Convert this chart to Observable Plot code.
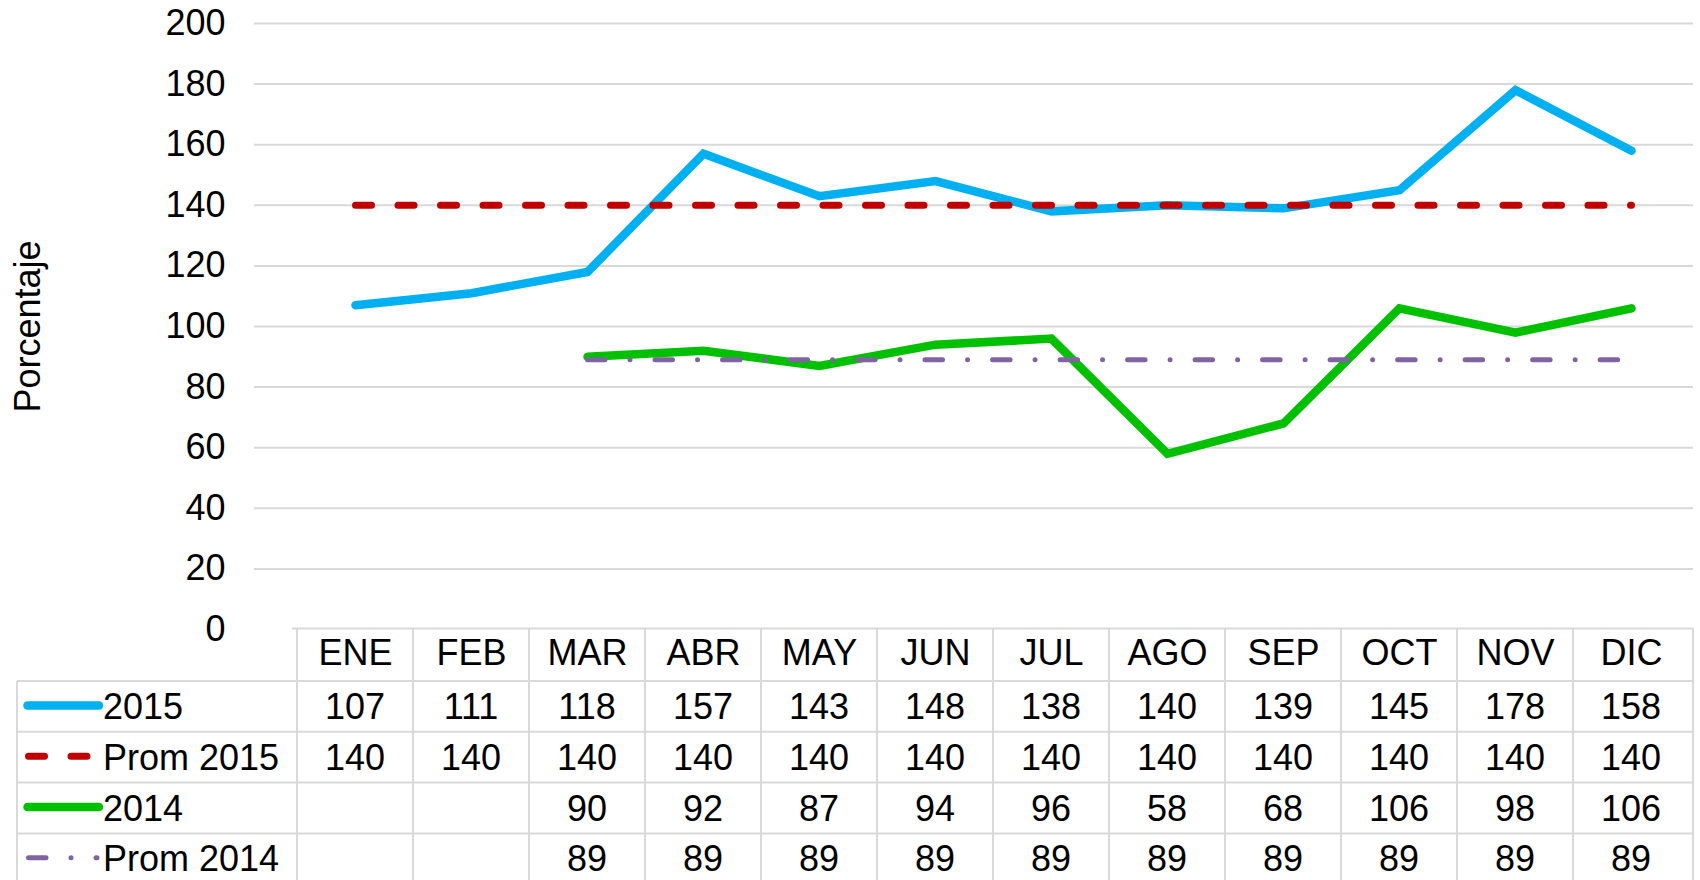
<!DOCTYPE html>
<html>
<head>
<meta charset="utf-8">
<script src="https://cdn.jsdelivr.net/npm/d3@7"></script>
<script src="https://cdn.jsdelivr.net/npm/@observablehq/plot@0.6"></script>
<style>
  html, body { margin: 0; padding: 0; background: #ffffff; }
  #chart svg { display: block; overflow: visible; }
</style>
</head>
<body>
<div id="chart"></div>
<script>
// ---- data ----
const months = ["ENE","FEB","MAR","ABR","MAY","JUN","JUL","AGO","SEP","OCT","NOV","DIC"];
const serie2015 = [107,111,118,157,143,148,138,140,139,145,178,158];
const prom2015  = [140,140,140,140,140,140,140,140,140,140,140,140];
const serie2014 = [null,null,90,92,87,94,96,58,68,106,98,106];
const prom2014  = [null,null,89,89,89,89,89,89,89,89,89,89];
const seriesNames = ["2015","Prom 2015","2014","Prom 2014"];
const yTicks = [0,20,40,60,80,100,120,140,160,180,200];
const yLabel = "Porcentaje";

// ---- styles ----
const FONT = "Arial, 'Liberation Sans', sans-serif";
const FS = 36;
const GRID = "#d9d9d9";
const styles = [
  {stroke: "#00B0F0", strokeWidth: 8.5, dash: null},
  {stroke: "#C00000", strokeWidth: 7, dash: "16,26.5"},
  {stroke: "#00C000", strokeWidth: 8.5, dash: null},
  {stroke: "#8064A2", strokeWidth: 5, dash: "17.5,25,0.01,25"}
];
const seriesValues = [serie2015, prom2015, serie2014, prom2014];

const W = 1700, H = 880;
const frameLeft = 254, colLeft = 292, colRight = 1693;
const frameTop = 23, frameBottom = 629;

const lineMarks = seriesValues.map((vals, k) =>
  Plot.line(vals.map((v, i) => ({month: months[i], value: v})), {
    x: "month", y: "value",
    stroke: styles[k].stroke, strokeWidth: styles[k].strokeWidth,
    strokeDasharray: styles[k].dash || undefined,
    strokeLinecap: "round", strokeLinejoin: "miter", strokeMiterlimit: 10
  })
);

const chart = Plot.plot({
  width: W, height: H,
  marginLeft: frameLeft, marginRight: W - colRight,
  marginTop: frameTop, marginBottom: H - frameBottom,
  style: {fontFamily: FONT, fontSize: FS + "px", background: "#ffffff", color: "#000000"},
  x: {type: "band", domain: months, range: [colLeft, colRight], padding: 0, label: null},
  y: {domain: [0, 200], label: null},
  marks: [
    Plot.ruleY(yTicks.filter(t => t > 0), {stroke: GRID, strokeWidth: 2}),
    Plot.axisY(yTicks, {tickSize: 0, tickPadding: 29, fontSize: FS, label: null, fill: "#000"}),
    Plot.axisX({tickSize: 0, tickPadding: 10, fontSize: FS, label: null, fill: "#000"}),
    Plot.text([yLabel], {frameAnchor: "left", dx: 27.5 - frameLeft, rotate: -90,
      textAnchor: "middle", lineAnchor: "middle", fontSize: FS, fill: "#000"}),
    ...lineMarks
  ]
});
document.getElementById("chart").appendChild(chart);

// ---- data table under the chart, positioned with Plot's x scale ----
const xs = chart.scale("x");
const bw = xs.bandwidth;
const starts = months.map(m => xs.apply(m));
const svg = d3.select(chart);
const g = svg.append("g").attr("class", "data-table");
const tableLeft = 17;
const headTop = 628.5, headBottom = 681, rowH = 50.8;
const rowTops = seriesValues.map((_, k) => headBottom + k * rowH);
const tableBottom = headBottom + seriesValues.length * rowH;

const line = (x1, y1, x2, y2) => g.append("line")
  .attr("x1", x1).attr("y1", y1).attr("x2", x2).attr("y2", y2)
  .attr("stroke", GRID).attr("stroke-width", 2);

// horizontal lines
line(colLeft, headTop, colRight, headTop);
rowTops.forEach(y => line(tableLeft, y, colRight, y));
line(tableLeft, tableBottom, colRight, tableBottom);
// vertical lines
line(tableLeft, headBottom, tableLeft, tableBottom);
starts.forEach(x => line(x, headTop, x, tableBottom));
line(colRight, headTop, colRight, tableBottom);

// values
seriesValues.forEach((vals, k) => {
  const cy = rowTops[k] + rowH / 2;
  vals.forEach((v, i) => {
    if (v == null) return;
    g.append("text")
      .attr("x", starts[i] + bw / 2).attr("y", cy + 12.5)
      .attr("text-anchor", "middle")
      .attr("font-family", FONT).attr("font-size", FS).attr("fill", "#000")
      .text(v);
  });
  // legend key
  const st = styles[k];
  const keyEnd = k === 3 ? 97 : 99;
  g.append("line")
    .attr("x1", k === 1 || k === 3 ? 28.5 : 27.5).attr("x2", keyEnd)
    .attr("y1", cy - 1).attr("y2", cy - 1)
    .attr("stroke", st.stroke).attr("stroke-width", st.strokeWidth)
    .attr("stroke-linecap", "round")
    .attr("stroke-dasharray", st.dash || null);
  g.append("text")
    .attr("x", 103).attr("y", cy + 12.5)
    .attr("text-anchor", "start")
    .attr("font-family", FONT).attr("font-size", FS).attr("fill", "#000")
    .text(seriesNames[k]);
});
</script>
</body>
</html>
